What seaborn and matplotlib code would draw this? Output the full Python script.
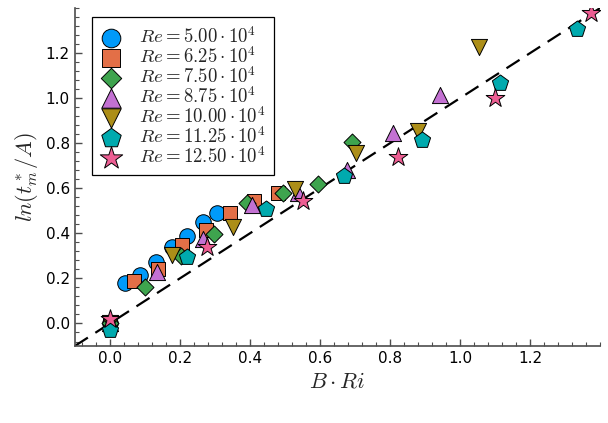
import pandas as pd
import seaborn as sns
import matplotlib.pyplot as plt
from matplotlib.ticker import AutoMinorLocator

# values
re_labels = [r"$Re = 5.00 \cdot 10^4$", r"$Re = 6.25 \cdot 10^4$", r"$Re = 7.50 \cdot 10^4$",
             r"$Re = 8.75 \cdot 10^4$", r"$Re = 10.00 \cdot 10^4$", r"$Re = 11.25 \cdot 10^4$",
             r"$Re = 12.50 \cdot 10^4$"]

x_re500 = [0.0, 0.043, 0.086, 0.131, 0.177, 0.220, 0.266, 0.306]
y_re500 = [0.0, 0.178, 0.213, 0.271, 0.338, 0.387, 0.449, 0.489]

x_re625 = [0.0, 0.069, 0.137, 0.206, 0.274, 0.343, 0.411, 0.480]
y_re625 = [0.0, 0.187, 0.240, 0.347, 0.413, 0.489, 0.542, 0.578]

x_re750 = [0.0, 0.100, 0.204, 0.297, 0.391, 0.494, 0.594, 0.691]
y_re750 = [0.0, 0.164, 0.298, 0.396, 0.533, 0.578, 0.618, 0.804]

x_re875 = [0.0, 0.134, 0.266, 0.406, 0.537, 0.677, 0.809, 0.943]
y_re875 = [0.0, 0.227, 0.373, 0.524, 0.578, 0.680, 0.844, 1.013]

x_re1000 = [0.0, 0.177, 0.351, 0.529, 0.703, 0.880, 1.054]
y_re1000 = [0.0, 0.302, 0.427, 0.596, 0.756, 0.853, 1.227]

x_re1125 = [0.0, 0.220, 0.446, 0.669, 0.891, 1.114, 1.334]
y_re1125 = [-0.031, 0.293, 0.507, 0.653, 0.813, 1.067, 1.307]

x_re1250 = [0.0, 0.277, 0.551, 0.823, 1.100, 1.374]
y_re1250 = [0.018, 0.338, 0.542, 0.738, 1.000, 1.378]

xs = [x_re500, x_re625, x_re750, x_re875, x_re1000, x_re1125, x_re1250]
ys = [y_re500, y_re625, y_re750, y_re875, y_re1000, y_re1125, y_re1250]

colors = ["#009AFA", "#E36F47", "#3EA44E", "#C371D2", "#AC8E18", "#00AAAE", "#ED5E93"]
marks = ["o", "s", "D", "^", "v", "p", "*"]
sizes = [125, 115, 75, 135, 135, 150, 200]

sns.set_style("ticks")
plt.rcParams["font.family"] = ["DejaVu Sans"]
plt.rcParams["mathtext.fontset"] = "cm"

fig, ax = plt.subplots(figsize=(6.08, 4.23), dpi=100)
fig.subplots_adjust(left=0.123, right=0.987, top=0.981, bottom=0.182)

ax.axline((0, 0), slope=1, color="black", lw=1.6, ls=(0, (7, 4)), zorder=1)

for i in range(len(re_labels)):
    d = pd.DataFrame({"BRi": xs[i], "lnt": ys[i]})
    sns.scatterplot(data=d, x="BRi", y="lnt", color=colors[i], marker=marks[i],
                    s=sizes[i], edgecolor="black", linewidth=0.7, ax=ax,
                    zorder=3, label=re_labels[i])

ax.set_xlim(-0.1, 1.4)
ax.set_ylim(-0.1, 1.4)
ax.set_xticks([0.0, 0.2, 0.4, 0.6, 0.8, 1.0, 1.2])
ax.set_yticks([0.0, 0.2, 0.4, 0.6, 0.8, 1.0, 1.2])
ax.xaxis.set_minor_locator(AutoMinorLocator(5))
ax.yaxis.set_minor_locator(AutoMinorLocator(5))
ax.tick_params(which="both", direction="in", colors="#4d4d4d", labelcolor="black", labelsize=11)
ax.tick_params(which="major", length=5, width=1)
ax.tick_params(which="minor", length=3, width=0.8)
for sp in ["left", "bottom"]:
    ax.spines[sp].set_color("#4d4d4d")
    ax.spines[sp].set_linewidth(1.2)
sns.despine(ax=ax)

ax.set_xlabel(r"$B \cdot Ri$", fontsize=16)
ax.set_ylabel(r"$ln(t_m^*/A)$", fontsize=16)

handles, labels = ax.get_legend_handles_labels()
leg = ax.legend(handles, labels, loc="upper left", bbox_to_anchor=(0.032, 0.973),
                borderaxespad=0, fontsize=13.5, frameon=True, fancybox=False,
                edgecolor="black", framealpha=1, borderpad=0.45, labelspacing=-0.05,
                handletextpad=0.9, handlelength=1.2, markerscale=1.2)
leg.get_frame().set_linewidth(0.9)

plt.savefig("out.png", dpi=100)
